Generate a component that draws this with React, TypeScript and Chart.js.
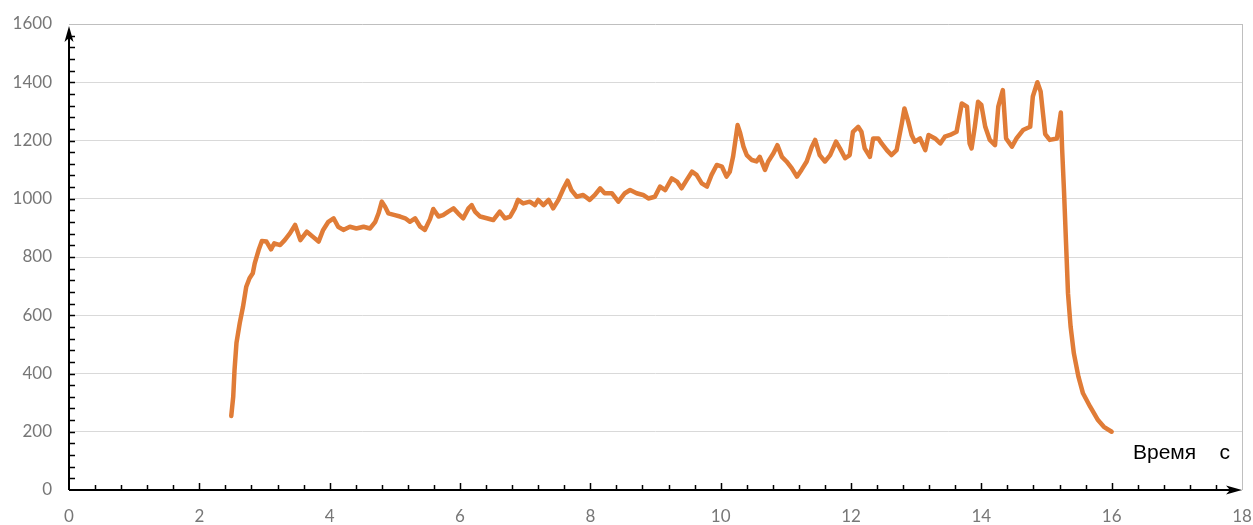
import React, { useEffect, useRef } from "react";
import { Chart, registerables } from "chart.js";

Chart.register(...registerables);

const times: number[] = [
  2.49, 2.52, 2.54, 2.57, 2.62, 2.67, 2.72, 2.77, 2.82, 2.85, 2.91, 2.96,
  3.03, 3.1, 3.15, 3.24, 3.31, 3.39, 3.47, 3.55, 3.65, 3.74, 3.83, 3.9, 3.98,
  4.06, 4.13, 4.21, 4.31, 4.41, 4.52, 4.62, 4.7, 4.75, 4.8, 4.85, 4.9,
  5.0, 5.08, 5.16, 5.23, 5.31, 5.39, 5.46, 5.54, 5.59, 5.67, 5.74, 5.82, 5.9, 5.97,
  6.05, 6.13, 6.18, 6.23, 6.31, 6.41, 6.51, 6.61, 6.69, 6.77, 6.84, 6.89, 6.97,
  7.07, 7.15, 7.2, 7.28, 7.36, 7.43, 7.51, 7.59, 7.65, 7.71, 7.79, 7.89, 7.99,
  8.07, 8.15, 8.22, 8.33, 8.43, 8.53, 8.61, 8.71, 8.81, 8.89, 8.99,
  9.07, 9.15, 9.25, 9.33, 9.4, 9.48, 9.56, 9.63, 9.71, 9.79, 9.86, 9.94,
  10.02, 10.09, 10.14, 10.19, 10.26, 10.3, 10.35, 10.4, 10.48, 10.55, 10.6, 10.68,
  10.73, 10.81, 10.87, 10.94, 11.01, 11.09, 11.17, 11.24, 11.32, 11.4, 11.45, 11.52,
  11.6, 11.68, 11.77, 11.83, 11.91, 11.98,
  12.03, 12.11, 12.16, 12.21, 12.29, 12.34, 12.42, 12.47, 12.55, 12.62, 12.7, 12.78,
  12.82, 12.88, 12.93, 12.98, 13.06, 13.14, 13.19, 13.29, 13.37, 13.44, 13.52, 13.62,
  13.7, 13.78, 13.82, 13.85, 13.9, 13.95, 14.0, 14.06, 14.13, 14.21, 14.26, 14.33,
  14.38, 14.47, 14.54, 14.64, 14.75, 14.79, 14.86, 14.91, 14.94, 14.98,
  15.05, 15.16, 15.22, 15.24, 15.27, 15.3, 15.33, 15.37, 15.42, 15.49, 15.56, 15.67,
  15.79, 15.88, 16.0,
];

const forces: number[] = [
  254, 320, 412, 505, 573, 629, 698, 727, 744, 778, 824, 855,
  853, 826, 847, 841, 858, 881, 910, 858, 887, 870, 853, 893, 921,
  933, 904, 893, 904, 898, 904, 898, 921, 950, 990, 973, 950,
  944, 939, 933, 921, 933, 904, 893, 930, 965, 939, 944, 956, 967, 950,
  933, 967, 978, 956, 939, 933, 927, 956, 933, 939, 967, 996, 984,
  990, 978, 996, 978, 996, 967, 996, 1036, 1062, 1030, 1007, 1013, 996,
  1013, 1036, 1019, 1019, 990, 1019, 1030, 1019, 1013, 1001, 1007,
  1042, 1030, 1070, 1059, 1036, 1065, 1093, 1082, 1053, 1042, 1082, 1116,
  1110, 1076, 1093, 1144, 1253, 1225, 1179, 1150, 1133, 1128, 1144, 1099,
  1128, 1156, 1184, 1144, 1128, 1105, 1076, 1099, 1128, 1179, 1202, 1150,
  1128, 1150, 1196, 1173, 1139, 1150,
  1230, 1247, 1230, 1173, 1144, 1207, 1207, 1190, 1167, 1150, 1167, 1259,
  1310, 1264, 1219, 1196, 1207, 1167, 1219, 1207, 1190, 1213, 1219, 1230,
  1327, 1316, 1190, 1173, 1247, 1333, 1322, 1247, 1202, 1184, 1316, 1373,
  1207, 1179, 1207, 1236, 1247, 1351, 1400, 1368, 1305, 1222,
  1202, 1207, 1296, 1170, 1019, 847, 675, 561, 469, 389, 332, 286,
  240, 217, 200,
];

const xMin = 0;
const xMax = 18;
const xStep = 2;
const xMinorStep = 0.4;
const yMin = 0;
const yMax = 1600;
const yStep = 200;
const yMinorStep = 40;
const axisTitle = "Время    с";

export default function App() {
  const ref = useRef<HTMLCanvasElement | null>(null);

  useEffect(() => {
    if (!ref.current) return;

    const axesPlugin = {
      id: "customAxes",
      afterDraw(chart: any) {
        const { ctx, chartArea: a } = chart;
        const xs = chart.scales.x;
        const ys = chart.scales.y;
        const x0 = xs.getPixelForValue(xMin);
        const y0 = ys.getPixelForValue(yMin);
        const xEnd = xs.getPixelForValue(xMax);
        const yEnd = ys.getPixelForValue(yMax);
        ctx.save();
        // right border
        ctx.strokeStyle = "#bfbfbf";
        ctx.lineWidth = 1;
        ctx.beginPath();
        ctx.moveTo(Math.round(xEnd) + 0.5, yEnd);
        ctx.lineTo(Math.round(xEnd) + 0.5, y0);
        ctx.stroke();

        // axis lines
        ctx.strokeStyle = "#000";
        ctx.fillStyle = "#000";
        ctx.lineWidth = 2;
        ctx.beginPath();
        ctx.moveTo(x0, y0);
        ctx.lineTo(x0, yEnd + 6);
        ctx.moveTo(x0, y0);
        ctx.lineTo(xEnd - 6, y0);
        ctx.stroke();

        // minor ticks on y axis
        ctx.lineWidth = 1.5;
        ctx.beginPath();
        for (let v = yMin + yMinorStep; v < yMax - 1; v += yMinorStep) {
          const py = Math.round(ys.getPixelForValue(v)) + 0.5;
          ctx.moveTo(x0, py);
          ctx.lineTo(x0 + 6, py);
        }
        // ticks on x axis
        for (let v = xMin + xMinorStep; v < xMax - 0.01; v += xMinorStep) {
          const px = Math.round(xs.getPixelForValue(v)) + 0.5;
          const major = Math.abs(v / xStep - Math.round(v / xStep)) < 0.01;
          ctx.moveTo(px, y0);
          ctx.lineTo(px, y0 - (major ? 7 : 5));
        }
        ctx.stroke();

        // arrowheads
        ctx.beginPath();
        ctx.moveTo(x0, yEnd + 2);
        ctx.lineTo(x0 - 4.5, yEnd + 18);
        ctx.lineTo(x0, yEnd + 14);
        ctx.lineTo(x0 + 4.5, yEnd + 18);
        ctx.closePath();
        ctx.fill();

        ctx.beginPath();
        ctx.moveTo(xEnd, y0);
        ctx.lineTo(xEnd - 16, y0 - 4.5);
        ctx.lineTo(xEnd - 12, y0);
        ctx.lineTo(xEnd - 16, y0 + 4.5);
        ctx.closePath();
        ctx.fill();

        // axis title
        ctx.font = '21px "Liberation Sans", Arial, sans-serif';
        ctx.fillStyle = "#000";
        ctx.textAlign = "left";
        ctx.textBaseline = "alphabetic";
        ctx.fillText(axisTitle, a.right - 109, y0 - 31);
        ctx.restore();
      },
    };

    const chart = new Chart(ref.current, {
      type: "line",
      data: {
        datasets: [
          {
            data: times.map((t, i) => ({ x: t, y: forces[i] })),
            borderColor: "#E07C37",
            borderWidth: 4.5,
            pointRadius: 0,
            tension: 0,
            fill: false,
            borderJoinStyle: "round",
            borderCapStyle: "round",
          },
        ],
      },
      options: {
        responsive: false,
        animation: false,
        layout: { padding: { left: 0, top: 24, right: 11, bottom: 0 } },
        plugins: {
          legend: { display: false },
          tooltip: { enabled: false },
        },
        scales: {
          x: {
            type: "linear",
            min: xMin,
            max: xMax,
            border: { display: false },
            grid: { display: false, drawTicks: false },
            ticks: {
              stepSize: xStep,
              color: "#777777",
              font: { family: "Lato", size: 17 },
              padding: 16,
              maxRotation: 0,
              callback: (v: any) => String(v),
            },
            afterFit: (s: any) => {
              s.height = 35;
              s.paddingLeft = 0;
              s.paddingRight = 0;
            },
          },
          y: {
            type: "linear",
            min: yMin,
            max: yMax,
            border: { display: false },
            grid: {
              drawTicks: false,
              color: (c: any) => (c.tick && c.tick.value === yMax ? "#bfbfbf" : "#d9d9d9"),
              lineWidth: 1,
            },
            ticks: {
              stepSize: yStep,
              color: "#777777",
              font: { family: "Lato", size: 17 },
              padding: 17,
              callback: (v: any) => String(v),
            },
            afterFit: (s: any) => {
              s.width = 69;
              s.paddingTop = 0;
              s.paddingBottom = 0;
            },
          },
        },
      },
      plugins: [axesPlugin],
    });

    return () => chart.destroy();
  }, []);

  return (
    <div style={{ position: "absolute", left: 0, top: 0, width: 1253, height: 525, background: "#fff" }}>
      <canvas ref={ref} width={1253} height={525} style={{ display: "block" }} />
    </div>
  );
}
